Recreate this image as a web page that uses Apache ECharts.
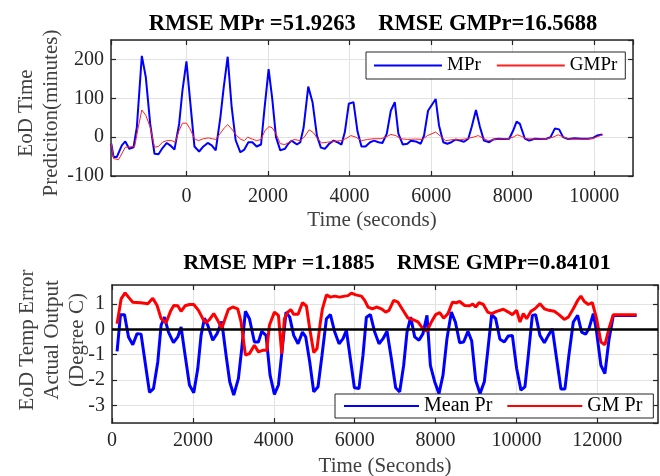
<!DOCTYPE html>
<html><head><meta charset="utf-8">
<script src="https://cdn.jsdelivr.net/npm/echarts@6/dist/echarts.min.js"></script>
<style>html,body{margin:0;padding:0;background:#fff}#c{width:660px;height:476px}</style>
</head><body><div id="c"></div>
<script>
// ---------- Top chart: EoD time prediction ----------
const mprTime = [-1843,-1787,-1706,-1584,-1500,-1403,-1297,-1216,-1094,-996,-889,-783,-685,-587,-482,-399,-294,-179,-98,0,90,196,311,416,522,620,718,832,914,1011,1109,1207,1322,1420,1518,1616,1721,1829,1909,2015,2105,2196,2301,2416,2497,2578,2710,2791,2872,2987,3092,3199,3297,3395,3500,3606,3704,3802,3884,3982,4096,4194,4292,4390,4504,4602,4708,4806,4913,5011,5109,5197,5305,5418,5501,5623,5745,5826,5924,6112,6193,6299,6397,6495,6602,6707,6805,6911,6994,7099,7197,7295,7425,7523,7646,7767,7914,8012,8096,8176,8299,8404,8543,8666,8830,8928,9033,9138,9236,9358,9523,9686,9849,9971,10069,10200];
const mprValue = [-17,-51,-51,-21,-11,-30,-26,26,209,154,34,-43,-44,-28,-15,-21,-32,34,120,195,94,-24,-37,-24,-15,-21,-34,51,128,207,77,-8,-39,-32,-13,-13,-24,-19,68,175,98,0,-34,-30,-17,-9,-19,-13,24,130,90,4,-27,-30,-17,-9,-13,-19,13,86,90,15,-24,-24,-13,-9,-13,-15,9,68,90,9,-19,-17,-9,-11,-17,4,68,98,30,-13,-17,-13,-6,-9,-12,-4,26,70,26,-9,-13,-6,-4,-5,-4,17,40,34,-4,-9,-4,-5,-4,0,22,20,0,-5,-3,-4,-4,-2,4,7];
const gmprTime = [-1843,-1787,-1665,-1500,-1400,-1270,-1180,-1094,-996,-889,-783,-685,-587,-482,-360,-277,-179,-98,0,90,196,294,416,538,636,718,824,930,1011,1109,1231,1338,1420,1501,1616,1721,1829,1926,2023,2105,2196,2301,2416,2520,2640,2791,2888,3011,3117,3215,3313,3460,3623,3786,3909,4031,4153,4292,4439,4602,4765,4887,5011,5134,5256,5418,5623,5786,5908,6112,6234,6356,6560,6707,6870,7033,7156,7278,7401,7604,7849,8012,8110,8217,8339,8584,8830,8992,9115,9253,9400,9808,9971,10200];
const gmprValue = [-17,-55,-58,-26,-25,-24,26,70,56,26,-26,-24,-13,-9,-9,-13,17,36,36,21,-4,-9,-4,-2,-4,-6,9,24,32,21,4,-6,-9,0,-5,-9,-6,17,27,24,9,-17,-19,-13,-6,-9,0,19,11,-4,-15,-13,-11,-9,-4,4,0,-9,-6,-4,-4,0,7,4,-4,-6,-5,-6,4,13,2,-9,-6,-7,-4,0,4,-3,-9,-5,-4,0,6,2,-4,-5,-4,0,6,0,-5,-5,-3,6];
const topTitle = 'RMSE MPr =51.9263    RMSE GMPr=16.5688';

// ---------- Bottom chart: EoD temperature error ----------
const meanTime = [126,210,309,408,514,620,719,818,927,1026,1132,1214,1297,1396,1520,1626,1708,1807,1915,2022,2121,2202,2286,2368,2491,2598,2714,2820,2911,3010,3126,3208,3299,3398,3521,3620,3702,3809,3908,4016,4115,4197,4303,4394,4493,4600,4709,4790,4889,4988,5094,5193,5302,5400,5507,5614,5712,5795,5894,5993,6107,6206,6290,6389,6495,6602,6701,6800,6908,7014,7113,7212,7294,7385,7484,7590,7689,7788,7872,7978,8085,8184,8282,8391,8490,8596,8695,8801,8893,8992,9099,9206,9288,9387,9486,9592,9701,9800,9899,10005,10111,10210,10294,10393,10474,10581,10690,10789,10888,10993,11100,11198,11297,11406,11513,11612,11710,11792,11901,11982,12088,12187,12286,12395,12970];
const meanValue = [-0.87,0.58,0.58,-0.30,-0.61,-0.17,-0.19,-1.29,-2.49,-2.34,-1.29,0.16,0.48,-0.11,-0.53,-0.30,0.09,-1.02,-2.20,-2.51,-1.55,-0.24,0.44,0.16,-0.43,-0.17,0.31,-1.02,-2.07,-2.60,-1.94,-0.76,0.71,0.42,-0.50,-0.50,-0.08,-0.24,-1.81,-2.57,-2.20,-0.96,0.68,0.48,-0.24,-0.57,-0.11,-0.30,-1.29,-2.47,-2.27,-1.02,0.42,0.58,-0.11,-0.57,-0.37,-0.04,-1.16,-2.31,-2.34,-1.02,0.48,0.58,-0.11,-0.57,-0.37,-0.08,-1.16,-2.31,-2.47,-1.42,-0.11,0.48,-0.30,-0.43,-0.17,0.55,-1.42,-2.07,-2.54,-1.81,-0.37,0.68,0.29,-0.53,-0.50,-0.08,-0.45,-2.01,-2.54,-2.07,-0.89,0.58,0.42,-0.39,-0.50,-0.26,-0.24,-1.55,-2.40,-2.27,-1.02,0.55,0.58,-0.24,-0.53,-0.24,0.02,-1.16,-2.36,-2.36,-1.02,0.29,0.55,-0.11,-0.19,0.02,0.62,-0.11,-1.42,-1.75,-0.43,0.55,0.55];
const gmTime = [126,225,324,408,514,719,885,1008,1115,1214,1337,1446,1527,1626,1708,1807,1915,2022,2138,2244,2326,2410,2516,2615,2714,2796,2879,2986,3109,3191,3299,3398,3521,3620,3727,3826,3892,4016,4115,4197,4263,4345,4420,4493,4600,4709,4807,4889,4988,5069,5153,5203,5302,5400,5507,5630,5754,5836,5919,6026,6166,6248,6330,6438,6537,6661,6767,6849,6965,7071,7195,7318,7442,7566,7689,7788,7896,8003,8102,8201,8307,8416,8514,8596,8720,8843,8920,8992,9074,9182,9288,9387,9511,9676,9800,9899,10005,10087,10170,10252,10359,10457,10581,10690,10803,10937,11050,11183,11282,11406,11513,11594,11678,11777,11876,11982,12088,12187,12286,12395,12970];
const gmValue = [0.22,1.20,1.44,1.27,1.07,1.05,1.01,1.23,0.94,0.42,0.26,0.71,0.94,0.93,0.71,0.93,0.98,0.98,0.75,0.42,0.26,0.38,0.62,0.35,0.03,0.42,0.79,0.88,0.81,0.29,-1.02,-0.96,-0.63,-0.89,-0.83,-0.83,0.16,0.68,0.55,-0.96,0.42,0.68,0.78,0.59,0.59,1.05,0.92,0.02,-0.92,-0.76,0.29,0.81,1.36,1.27,1.31,1.27,1.31,1.33,1.43,1.36,1.31,1.14,0.88,0.81,0.88,0.81,0.68,0.75,1.14,1.07,0.75,0.44,0.38,0.29,0.02,-0.08,0.29,0.58,0.66,0.44,0.62,1.07,1.05,1.10,0.94,0.93,1.0,0.88,1.05,0.98,0.68,0.62,0.71,0.79,0.68,0.58,0.75,0.29,0.62,0.42,0.71,0.81,1.01,0.81,0.75,0.71,0.58,0.39,0.48,0.81,1.14,1.31,1.10,0.98,1.05,0.42,-0.50,-0.61,0.02,0.58,0.58];
const bottomTitle = 'RMSE MPr =1.1885    RMSE GMPr=0.84101';

const FONT = '"Liberation Serif","Times New Roman",serif';
const AX = '#262626';
const GRIDC = '#e2e2e2';
function pairs(t, v) { return t.map((x, i) => [x, v[i]]); }
const plain = v => String(v);

function xMain(grid, min, max, name, showMin, margin, gap) {
  return {
    type: 'value', gridIndex: grid, min: min, max: max, minInterval: 2000, maxInterval: 2000,
    axisLine: { show: true, onZero: false, lineStyle: { color: AX, width: 1.5 } },
    axisTick: { show: true, inside: true, length: 5, lineStyle: { color: AX, width: 1.2 } },
    axisLabel: { fontFamily: FONT, fontSize: 20, color: AX, margin: margin, showMinLabel: showMin, showMaxLabel: false, formatter: plain },
    splitLine: { show: true, lineStyle: { color: GRIDC, width: 1 } },
    name: name, nameLocation: 'middle', nameGap: gap, nameMoveOverlap: false,
    nameTextStyle: { fontFamily: FONT, fontSize: 21, color: '#404040' }
  };
}
function xTop(grid, min, max) {
  return {
    type: 'value', gridIndex: grid, position: 'top', min: min, max: max, minInterval: 2000, maxInterval: 2000,
    axisLine: { show: true, onZero: false, lineStyle: { color: AX, width: 1.5 } },
    axisTick: { show: true, inside: true, length: 5, lineStyle: { color: AX, width: 1.2 } },
    axisLabel: { show: false }, splitLine: { show: false }
  };
}
function yMain(grid, min, max, step, name, gap, pad, showMin) {
  return {
    type: 'value', gridIndex: grid, min: min, max: max, minInterval: step, maxInterval: step,
    axisLine: { show: true, onZero: false, lineStyle: { color: AX, width: 1.5 } },
    axisTick: { show: true, inside: true, length: 5, lineStyle: { color: AX, width: 1.2 } },
    axisLabel: { fontFamily: FONT, fontSize: 20, color: AX, margin: 7, showMinLabel: showMin, showMaxLabel: false, formatter: plain },
    splitLine: { show: true, lineStyle: { color: GRIDC, width: 1 } },
    name: name, nameLocation: 'middle', nameGap: gap, nameMoveOverlap: false,
    nameTextStyle: { fontFamily: FONT, fontSize: 21, color: '#404040', lineHeight: 25, padding: pad }
  };
}
function yRight(grid, min, max, step) {
  return {
    type: 'value', gridIndex: grid, position: 'right', min: min, max: max, minInterval: step, maxInterval: step,
    axisLine: { show: true, onZero: false, lineStyle: { color: AX, width: 1.5 } },
    axisTick: { show: true, inside: true, length: 5, lineStyle: { color: AX, width: 1.2 } },
    axisLabel: { show: false }, splitLine: { show: false }
  };
}

const chart = echarts.init(document.getElementById('c'), null, { renderer: 'canvas' });
chart.setOption({
  animation: false,
  backgroundColor: '#fff',
  title: [
    { text: topTitle, left: 373, top: 13, textAlign: 'center', padding: 0,
      textStyle: { fontFamily: FONT, fontSize: 22.5, fontWeight: 'bold', color: '#000' } },
    { text: bottomTitle, left: 397, top: 252, textAlign: 'center', padding: 0,
      textStyle: { fontFamily: FONT, fontSize: 22, fontWeight: 'bold', color: '#000' } }
  ],
  grid: [
    { left: 111, top: 40, width: 522, height: 136, outerBoundsMode: 'none', containLabel: false },
    { left: 112, top: 285, width: 546, height: 138, outerBoundsMode: 'none', containLabel: false }
  ],
  xAxis: [
    xMain(0, -1850, 10950, 'Time (seconds)', false, 11, 34),
    xTop(0, -1850, 10950),
    xMain(1, 0, 13500, 'Time (Seconds)', true, 8, 33),
    xTop(1, 0, 13500)
  ],
  yAxis: [
    yMain(0, -100, 250, 100, 'EoD Time\nPrediciton(minutes)', 47, [0, 10, 0, 0], true),
    yRight(0, -100, 250, 100),
    yMain(1, -3.7, 1.75, 1, 'EoD Temp Error\nActual Output\n(Degree C)', 22, [0, 0, 0, 28], false),
    yRight(1, -3.7, 1.75, 1)
  ],
  legend: [
    { data: ['MPr', 'GMPr'], left: 366, top: 52, orient: 'horizontal',
      padding: [4, 8, 4, 7], itemGap: 15, itemWidth: 68, itemHeight: 14,
      itemStyle: { opacity: 0 },
      backgroundColor: '#fff', borderColor: AX, borderWidth: 1, borderRadius: 0,
      textStyle: { fontFamily: FONT, fontSize: 19, color: '#000' } },
    { data: ['Mean Pr', 'GM Pr'], left: 335, top: 394, orient: 'horizontal',
      padding: [2, 11, 2, 8], itemGap: 14, itemWidth: 75, itemHeight: 14,
      itemStyle: { opacity: 0 },
      backgroundColor: '#fff', borderColor: AX, borderWidth: 1, borderRadius: 0,
      textStyle: { fontFamily: FONT, fontSize: 20, color: '#000' } }
  ],
  series: [
    { name: 'MPr', type: 'line', xAxisIndex: 0, yAxisIndex: 0, data: pairs(mprTime, mprValue),
      symbol: 'none', color: '#0000ff', lineStyle: { color: '#0000ff', width: 2 }, z: 2 },
    { name: 'GMPr', type: 'line', xAxisIndex: 0, yAxisIndex: 0, data: pairs(gmprTime, gmprValue),
      symbol: 'none', color: '#ff2020', lineStyle: { color: '#ff2020', width: 1 }, z: 3 },
    { name: 'Mean Pr', type: 'line', xAxisIndex: 2, yAxisIndex: 2, data: pairs(meanTime, meanValue),
      symbol: 'none', color: '#0000ff', lineStyle: { color: '#0000ff', width: 3 }, z: 2 },
    { name: 'GM Pr', type: 'line', xAxisIndex: 2, yAxisIndex: 2, data: pairs(gmTime, gmValue),
      symbol: 'none', color: '#ff0000', lineStyle: { color: '#ff0000', width: 3 }, z: 3,
      markLine: { silent: true, symbol: ['none', 'none'], label: { show: false },
        lineStyle: { color: '#000', width: 2.5, type: 'solid' }, data: [{ yAxis: 0 }] } }
  ]
});
</script>
</body></html>
